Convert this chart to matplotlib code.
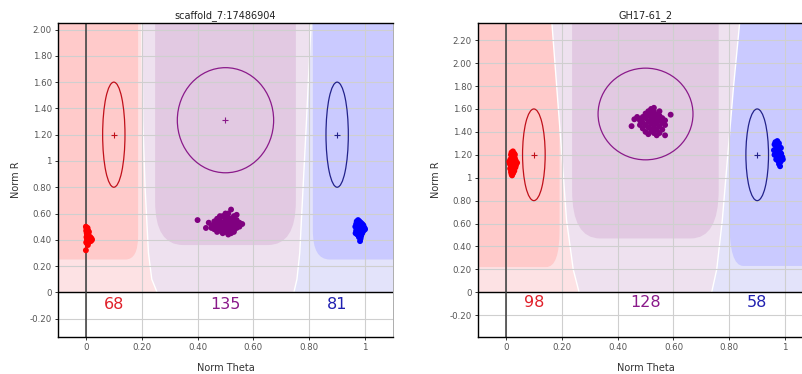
import matplotlib.pyplot as plt
from matplotlib.patches import Ellipse, Polygon, FancyBboxPatch

# ---- shared axis settings ----
x_ticks = [0, 0.2, 0.4, 0.6, 0.8, 1.0]
x_tick_labels = ['0', '0.20', '0.40', '0.60', '0.80', '1']
x_lim = (-0.1, 1.1)

# ---- left panel ----
title_1 = 'scaffold_7:17486904'
y_ticks_1 = [-0.2, 0, 0.2, 0.4, 0.6, 0.8, 1.0, 1.2, 1.4, 1.6, 1.8, 2.0]
y_tick_labels_1 = ['-0.20', '0', '0.20', '0.40', '0.60', '0.80', '1',
                   '1.20', '1.40', '1.60', '1.80', '2.00']
y_lim_1 = (-0.34, 2.05)
counts_1 = [68, 135, 81]

# boundary lines between genotype regions (y, x)
bnd_y_1 = [2.2, 1.3, 0.8, 0.3, 0.1, 0.0]
bnd_a_x_1 = [0.200, 0.204, 0.212, 0.224, 0.236, 0.255]
bnd_b_x_1 = [0.810, 0.790, 0.778, 0.766, 0.756, 0.745]

# inner regions: x0, x1, bottom, corner rx, corner ry
inner_aa_1 = [-0.4, 0.187, 0.25, 0.045, 0.18]
inner_ab_1 = [0.248, 0.752, 0.36, 0.10, 0.33]
inner_bb_1 = [0.813, 1.4, 0.25, 0.06, 0.22]

# cluster ellipses: center x, center y, width, height
ell_aa_1 = [0.10, 1.20, 0.08, 0.80]
ell_ab_1 = [0.50, 1.31, 0.345, 0.80]
ell_bb_1 = [0.90, 1.20, 0.08, 0.80]

aa_x_1 = [0.000, 0.002, 0.004, 0.006, 0.008, 0.003, 0.007, 0.001, 0.005, 0.009,
          0.002, 0.006, 0.010, 0.004, 0.008, 0.012, 0.016, 0.020, 0.018, 0.014,
          0.022, 0.010, 0.005, 0.001, 0.007, 0.003, 0.000, 0.009, 0.004, 0.011]
aa_y_1 = [0.50, 0.49, 0.48, 0.49, 0.47, 0.46, 0.45, 0.47, 0.44, 0.43,
          0.42, 0.41, 0.42, 0.40, 0.39, 0.41, 0.42, 0.41, 0.39, 0.40,
          0.40, 0.38, 0.37, 0.38, 0.36, 0.45, 0.32, 0.44, 0.43, 0.46]

ab_x_1 = [0.40, 0.43, 0.44, 0.45, 0.46, 0.46, 0.47, 0.47, 0.47, 0.48,
          0.48, 0.48, 0.49, 0.49, 0.49, 0.50, 0.50, 0.50, 0.50, 0.50,
          0.51, 0.51, 0.51, 0.51, 0.52, 0.52, 0.52, 0.52, 0.52, 0.53,
          0.53, 0.53, 0.53, 0.54, 0.54, 0.54, 0.55, 0.55, 0.56, 0.49,
          0.51, 0.46, 0.48, 0.50, 0.53, 0.45, 0.47, 0.54, 0.51, 0.49]
ab_y_1 = [0.55, 0.49, 0.53, 0.51, 0.48, 0.54, 0.50, 0.53, 0.56, 0.47,
          0.51, 0.55, 0.49, 0.53, 0.58, 0.46, 0.50, 0.52, 0.55, 0.60,
          0.48, 0.51, 0.54, 0.57, 0.45, 0.49, 0.52, 0.56, 0.63, 0.47,
          0.50, 0.54, 0.58, 0.49, 0.52, 0.55, 0.50, 0.53, 0.52, 0.45,
          0.44, 0.51, 0.58, 0.57, 0.46, 0.49, 0.46, 0.59, 0.60, 0.51]

bb_x_1 = [0.970, 0.975, 0.980, 0.985, 0.990, 0.968, 0.975, 0.982, 0.992, 0.998,
          0.965, 0.972, 0.980, 0.988, 0.995, 0.968, 0.976, 0.984, 0.990, 0.972,
          0.980, 0.986, 0.978, 0.984, 0.982, 1.000, 0.994, 0.966, 0.976, 0.988]
bb_y_1 = [0.54, 0.55, 0.54, 0.53, 0.52, 0.52, 0.51, 0.51, 0.50, 0.49,
          0.50, 0.49, 0.48, 0.48, 0.47, 0.47, 0.46, 0.46, 0.45, 0.44,
          0.44, 0.43, 0.42, 0.41, 0.39, 0.48, 0.51, 0.45, 0.53, 0.50]

# ---- right panel ----
title_2 = 'GH17-61_2'
y_ticks_2 = [-0.2, 0, 0.2, 0.4, 0.6, 0.8, 1.0, 1.2, 1.4, 1.6, 1.8, 2.0, 2.2]
y_tick_labels_2 = ['-0.20', '0', '0.20', '0.40', '0.60', '0.80', '1',
                   '1.20', '1.40', '1.60', '1.80', '2.00', '2.20']
y_lim_2 = (-0.39, 2.35)
counts_2 = [98, 128, 58]

bnd_y_2 = [2.5, 1.79, 1.21, 0.63, 0.2, 0.0]
bnd_a_x_2 = [0.160, 0.182, 0.200, 0.217, 0.241, 0.262]
bnd_b_x_2 = [0.843, 0.815, 0.795, 0.775, 0.755, 0.737]

inner_aa_2 = [-0.4, 0.192, 0.22, 0.048, 0.32]
inner_ab_2 = [0.237, 0.762, 0.47, 0.10, 0.42]
inner_bb_2 = [0.800, 1.4, 0.23, 0.05, 0.40]

ell_aa_2 = [0.10, 1.20, 0.081, 0.80]
ell_ab_2 = [0.50, 1.556, 0.34, 0.80]
ell_bb_2 = [0.90, 1.20, 0.081, 0.80]

aa_x_2 = [0.020, 0.025, 0.030, 0.018, 0.028, 0.022, 0.032, 0.016, 0.026, 0.035,
          0.020, 0.030, 0.014, 0.024, 0.040, 0.018, 0.028, 0.034, 0.015, 0.024,
          0.030, 0.018, 0.026, 0.020, 0.022, 0.036, 0.012, 0.032, 0.022, 0.028]
aa_y_2 = [1.22, 1.23, 1.21, 1.20, 1.19, 1.18, 1.17, 1.16, 1.16, 1.15,
          1.14, 1.13, 1.12, 1.12, 1.13, 1.10, 1.10, 1.09, 1.08, 1.07,
          1.06, 1.05, 1.04, 1.03, 1.02, 1.11, 1.14, 1.20, 1.09, 1.15]

ab_x_2 = [0.45, 0.46, 0.47, 0.48, 0.49, 0.49, 0.50, 0.50, 0.50, 0.51,
          0.51, 0.51, 0.51, 0.52, 0.52, 0.52, 0.52, 0.52, 0.53, 0.53,
          0.53, 0.53, 0.53, 0.54, 0.54, 0.54, 0.54, 0.55, 0.55, 0.55,
          0.55, 0.56, 0.56, 0.56, 0.57, 0.57, 0.59, 0.50, 0.51, 0.54,
          0.49, 0.55, 0.53, 0.48, 0.57]
ab_y_2 = [1.45, 1.51, 1.53, 1.50, 1.53, 1.48, 1.46, 1.52, 1.56, 1.44,
          1.49, 1.54, 1.58, 1.41, 1.47, 1.51, 1.56, 1.60, 1.39, 1.44,
          1.49, 1.53, 1.58, 1.42, 1.47, 1.51, 1.55, 1.39, 1.45, 1.50,
          1.54, 1.42, 1.48, 1.52, 1.37, 1.46, 1.55, 1.40, 1.38, 1.37,
          1.43, 1.58, 1.61, 1.46, 1.50]

bb_x_2 = [0.965, 0.972, 0.978, 0.962, 0.970, 0.980, 0.968, 0.976, 0.985, 0.960,
          0.972, 0.982, 0.966, 0.976, 0.986, 0.970, 0.980, 0.990, 0.974, 0.984,
          0.978, 0.982, 0.962, 0.992, 0.968]
bb_y_2 = [1.31, 1.32, 1.30, 1.29, 1.28, 1.27, 1.26, 1.25, 1.26, 1.24,
          1.23, 1.22, 1.21, 1.20, 1.21, 1.18, 1.17, 1.18, 1.15, 1.14,
          1.12, 1.10, 1.20, 1.16, 1.16]

# colours
pale_colors = ['#fde2e4', '#eee1ef', '#e3e3fa']
inner_colors = ['#ffcaca', '#e2c9e2', '#cacaff']
ell_colors = ['#c0101a', '#8a1a8a', '#22228a']
dot_colors = ['#ff0000', '#800080', '#0000ff']
count_colors = ['#e0202a', '#8a1a8a', '#2020b0']


def draw_panel(ax, title, y_ticks, y_tick_labels, y_lim, counts,
               bnd_y, bnd_a_x, bnd_b_x, inners, ells, pts):
    ax.set_xlim(*x_lim)
    ax.set_ylim(*y_lim)
    top = bnd_y[0]

    # pale genotype regions, split by the two boundary lines
    line_a = list(zip(bnd_a_x, bnd_y))
    line_b = list(zip(bnd_b_x, bnd_y))
    regions = [
        [(-0.5, 0), (-0.5, top)] + line_a,
        line_a + line_b[::-1],
        line_b + [(1.5, 0), (1.5, top)],
    ]
    for poly_pts, pale, inner, col in zip(regions, pale_colors, inners, inner_colors):
        poly = Polygon(poly_pts, closed=True, facecolor=pale, edgecolor='none', zorder=1)
        ax.add_patch(poly)
        x0, x1, yb, rx, ry = inner
        box = FancyBboxPatch((x0, yb), x1 - x0, top + 1 - yb,
                             boxstyle=f'round,pad=0,rounding_size={rx}',
                             mutation_aspect=ry / rx,
                             facecolor=col, edgecolor='none', zorder=1.1)
        ax.add_patch(box)
        box.set_clip_path(poly)

    ax.plot(bnd_a_x, bnd_y, color='white', lw=1.0, zorder=1.2)
    ax.plot(bnd_b_x, bnd_y, color='white', lw=1.0, zorder=1.2)

    # axis lines through zero
    ax.axhline(0, color='black', lw=1.0, zorder=2)
    ax.axvline(0, color='#3a3a3a', lw=1.1, zorder=2)

    # cluster ellipses with centre crosses
    for (cx, cy, w, h), col in zip(ells, ell_colors):
        ax.add_patch(Ellipse((cx, cy), w, h, fill=False, edgecolor=col, lw=0.9, zorder=2.2))
        ax.plot(cx, cy, marker='+', color=col, ms=4.5, mew=0.8, zorder=2.2)

    for (px, py), col in zip(pts, dot_colors):
        ax.scatter(px, py, s=18, color=col, edgecolors='none', zorder=3)

    for cx, n, col in zip([0.1, 0.5, 0.9], counts, count_colors):
        ax.text(cx, -0.09, str(n), color=col, fontsize=11.5, ha='center', va='center', zorder=4)

    ax.set_xticks(x_ticks)
    ax.set_xticklabels(x_tick_labels)
    ax.set_yticks(y_ticks)
    ax.set_yticklabels(y_tick_labels)
    ax.tick_params(labelsize=6.2, labelcolor='#555555', length=2.5, width=0.7, color='#333333', pad=2)
    ax.set_axisbelow('line')
    ax.grid(True, color='#cfcfcf', lw=0.8)

    ax.set_title(title, fontsize=7, pad=3.5, color='#222222')
    ax.set_xlabel('Norm Theta', fontsize=7, labelpad=8, color='#333333')
    ax.set_ylabel('Norm R', fontsize=7, labelpad=6, color='#333333')

    for side in ['top', 'bottom', 'left']:
        ax.spines[side].set_color('black')
        ax.spines[side].set_linewidth(1.0)
    ax.spines['right'].set_color('#a0a0a0')
    ax.spines['right'].set_linewidth(0.6)


fig = plt.figure(figsize=(8.03, 3.74), dpi=100)
ax1 = fig.add_axes([0.0722, 0.0989, 0.4172, 0.8396])
ax2 = fig.add_axes([0.5953, 0.0989, 0.4172, 0.8396])

draw_panel(ax1, title_1, y_ticks_1, y_tick_labels_1, y_lim_1, counts_1,
           bnd_y_1, bnd_a_x_1, bnd_b_x_1,
           [inner_aa_1, inner_ab_1, inner_bb_1],
           [ell_aa_1, ell_ab_1, ell_bb_1],
           [(aa_x_1, aa_y_1), (ab_x_1, ab_y_1), (bb_x_1, bb_y_1)])
draw_panel(ax2, title_2, y_ticks_2, y_tick_labels_2, y_lim_2, counts_2,
           bnd_y_2, bnd_a_x_2, bnd_b_x_2,
           [inner_aa_2, inner_ab_2, inner_bb_2],
           [ell_aa_2, ell_ab_2, ell_bb_2],
           [(aa_x_2, aa_y_2), (ab_x_2, ab_y_2), (bb_x_2, bb_y_2)])

fig.savefig('out.png', dpi=100)
